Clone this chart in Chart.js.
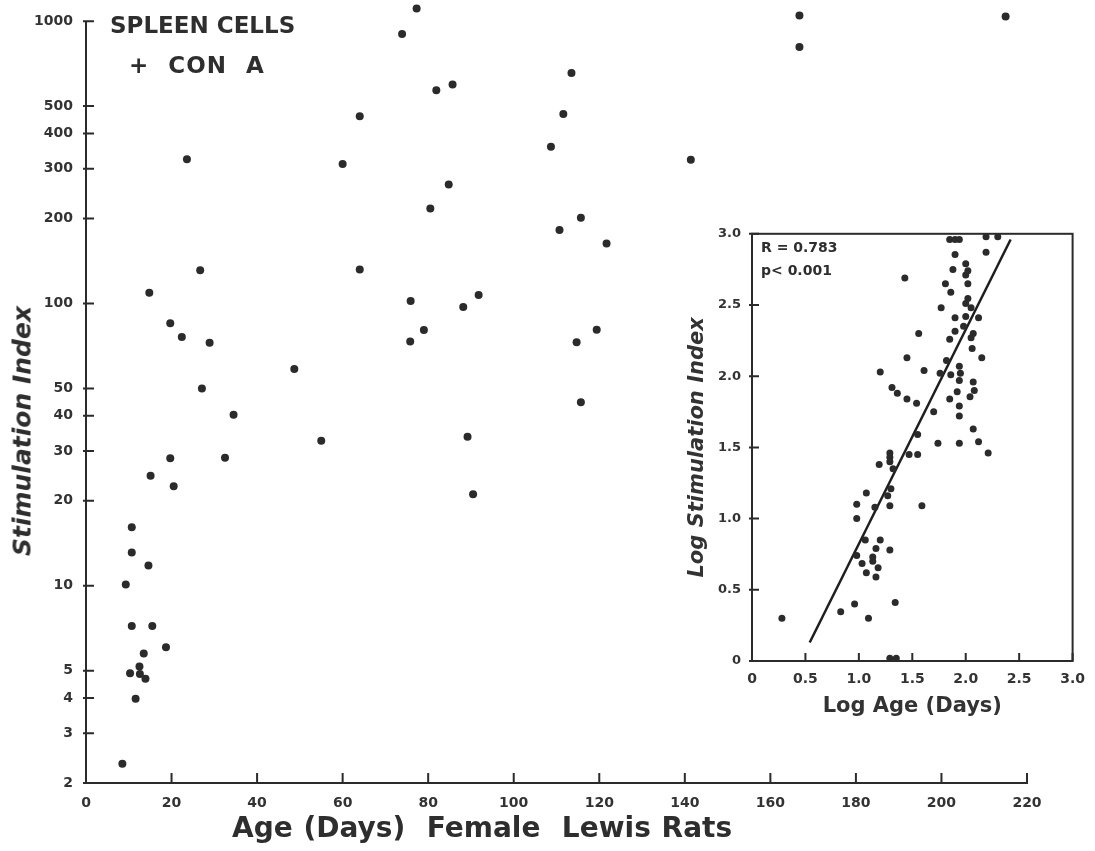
<!DOCTYPE html>
<html>
<head>
<meta charset="utf-8">
<script src="https://cdn.jsdelivr.net/npm/chart.js@4.4.1/dist/chart.umd.min.js"></script>
<style>
  body { margin: 0; background: #fff; }
  #wrap { position: relative; width: 1095px; height: 851px; overflow: hidden; }
  #mainChart { position: absolute; left: 0; top: 0; }
  #insetChart { position: absolute; left: 680px; top: 215px; }
  .lbl { position: absolute; color: #2e2e2e; font-family: "DejaVu Sans", sans-serif; font-weight: bold; white-space: pre; line-height: 1; }
  .rot { transform: translate(-50%, -50%) rotate(-90deg); font-style: italic; }
</style>
</head>
<body>
<div id="wrap">
  <canvas id="mainChart" width="1095" height="851"></canvas>
  <canvas id="insetChart" width="415" height="505"></canvas>
  <div class="lbl" style="left:110px; top:14px; font-size:23px;">SPLEEN CELLS</div>
  <div class="lbl" style="left:129px; top:54px; font-size:23px; letter-spacing:1px; word-spacing:10px;">+ CON A</div>
  <div class="lbl rot" style="left:22px; top:431px; font-size:25px;">Stimulation Index</div>
  <div class="lbl" style="left:232px; top:814px; font-size:28px; word-spacing:1px;">Age (Days)  Female  Lewis Rats</div>
  <div class="lbl" style="left:761px; top:240px; font-size:14px;">R = 0.783</div>
  <div class="lbl" style="left:761px; top:263px; font-size:14px;">p&lt; 0.001</div>
</div>
<script>
// main panel: age (days) vs stimulation index
const ageDays = [8.5, 9.3, 10.7, 15.5, 18.7, 13.5, 12.5, 10.3, 12.6, 13.9, 11.6, 14.6, 14.8, 19.7, 22.4, 28.9,
    48.7, 27.1, 34.5, 55.0, 19.7, 32.5, 15.1, 20.5, 10.7, 10.7, 23.6, 26.7, 60.0, 64.0, 64.0, 77.3, 73.9, 81.9,
    85.7, 113.5, 111.6, 108.7, 141.4, 84.8, 80.5, 115.7, 110.7, 121.7, 91.8, 166.8, 166.8, 215, 75.9, 79.0, 75.8,
    88.2, 119.4, 114.7, 115.7, 89.2, 90.5];
const stimIndex = [2.34, 10.1, 7.2, 7.2, 6.05, 5.75, 5.17, 4.9, 4.87, 4.68, 3.98, 11.8, 109, 85, 76, 72.6,
    58.6, 50, 40.3, 32.6, 28.3, 28.4, 24.5, 22.5, 16.1, 13.1, 324, 131, 312, 460, 132, 1109, 900, 569,
    596, 655, 469, 359, 323, 264, 217, 201, 182, 163, 107, 1047, 809, 1038, 102, 80.5, 73.3,
    97.2, 80.7, 72.8, 44.7, 33.7, 21.1];
const ageTicks = [0, 20, 40, 60, 80, 100, 120, 140, 160, 180, 200, 220];
const indexTicks = [2, 3, 4, 5, 10, 20, 30, 40, 50, 100, 200, 300, 400, 500, 1000];

// inset: log age vs log stimulation index
const logAge = [1.85, 1.90, 1.94, 2.19, 2.30, 1.90, 2.19, 1.43, 1.88, 2.00, 2.02, 2.00, 1.81, 2.02, 1.86, 2.02,
    2.00, 2.05, 1.77, 1.90, 2.00, 2.12, 1.98, 1.56, 1.90, 2.07, 2.05, 1.85, 2.06, 1.45, 2.15, 1.82, 1.20, 1.61,
    1.94, 1.95, 1.76, 1.86, 1.94, 2.07, 2.08, 1.31, 1.36, 1.92, 1.45, 1.54, 1.85, 2.04, 1.94, 1.70, 1.94, 2.07,
    1.55, 1.74, 1.94, 2.12, 1.29, 1.47, 1.55, 2.21,
    1.29, 1.29, 1.32, 1.19, 1.30, 1.07, 1.27, 0.98, 1.15, 1.29, 1.59, 0.98, 1.06, 1.20, 1.16, 1.29, 0.98, 1.13,
    1.13, 1.03, 1.18, 1.07, 1.16, 0.96, 1.34, 0.83, 1.09, 0.28, 1.29, 1.35];
const logIndex = [2.96, 2.96, 2.96, 2.98, 2.98, 2.855, 2.87, 2.69, 2.75, 2.79, 2.74, 2.71, 2.65, 2.65, 2.59, 2.545,
    2.51, 2.48, 2.48, 2.41, 2.42, 2.41, 2.35, 2.30, 2.315, 2.30, 2.27, 2.26, 2.195, 2.13, 2.13, 2.11, 2.03, 2.04,
    2.07, 2.02, 2.02, 2.01, 1.97, 1.96, 1.90, 1.92, 1.88, 1.89, 1.84, 1.81, 1.84, 1.855, 1.79, 1.75, 1.72, 1.63,
    1.59, 1.53, 1.53, 1.54, 1.46, 1.45, 1.45, 1.46,
    1.43, 1.40, 1.35, 1.38, 1.21, 1.18, 1.16, 1.10, 1.08, 1.09, 1.09, 1.00, 0.85, 0.85, 0.79, 0.78, 0.74, 0.73,
    0.70, 0.685, 0.655, 0.62, 0.59, 0.40, 0.41, 0.345, 0.30, 0.30, 0.02, 0.02];
const fitX = [0.54, 2.42];
const fitY = [0.13, 2.96];
const insetTicks = [0, 0.5, 1.0, 1.5, 2.0, 2.5, 3.0];

const ink = '#2b2b2b';
const tickFont = { family: 'DejaVu Sans', weight: 'bold', size: 14 };

// tick marks drawn inward, like the original plot
const inwardTicks = {
    id: 'inwardTicks',
    afterDraw(chart, args, opts) {
        const { ctx, chartArea: a, scales } = chart;
        ctx.save();
        ctx.strokeStyle = ink;
        ctx.lineWidth = opts.width;
        ctx.beginPath();
        scales.x.ticks.forEach(t => {
            const px = scales.x.getPixelForValue(t.value);
            ctx.moveTo(px, a.bottom);
            ctx.lineTo(px, a.bottom - opts.xLen);
        });
        scales.y.ticks.forEach(t => {
            const py = scales.y.getPixelForValue(t.value);
            ctx.moveTo(a.left - 3, py);
            ctx.lineTo(a.left + opts.yLen, py);
        });
        if (opts.yAxisFrom !== undefined) {
            // y axis line only runs up to the top labelled tick
            ctx.moveTo(a.left, scales.y.getPixelForValue(opts.yAxisFrom));
            ctx.lineTo(a.left, a.bottom);
        }
        ctx.stroke();
        if (opts.frame) {
            ctx.lineWidth = 2;
            ctx.strokeRect(a.left, a.top, a.right - a.left, a.bottom - a.top);
        }
        ctx.restore();
    }
};

new Chart(document.getElementById('mainChart'), {
    type: 'scatter',
    data: {
        datasets: [{
            data: ageDays.map((x, i) => ({ x: x, y: stimIndex[i] })),
            backgroundColor: ink,
            borderWidth: 0,
            pointRadius: 4,
            clip: false
        }]
    },
    options: {
        responsive: false,
        animation: false,
        devicePixelRatio: 1,
        layout: { padding: { top: 3, right: 68, left: 0, bottom: 0 } },
        plugins: {
            legend: { display: false }, tooltip: { enabled: false },
            inwardTicks: { width: 2, xLen: 10, yLen: 8, yAxisFrom: 1000 }
        },
        scales: {
            x: {
                type: 'linear', min: 0, max: 220,
                afterBuildTicks: s => { s.ticks = ageTicks.map(v => ({ value: v })); },
                afterFit: s => { s.height = 68; },
                grid: { display: false, drawTicks: false },
                border: { display: true, color: ink, width: 2 },
                ticks: { color: '#333', font: tickFont, padding: 12 }
            },
            y: {
                type: 'logarithmic', min: 2, max: 1150,
                afterBuildTicks: s => { s.ticks = indexTicks.map(v => ({ value: v })); },
                afterFit: s => { s.width = 86; s.paddingTop = 0; s.paddingBottom = 0; },
                grid: { display: false, drawTicks: false },
                border: { display: false },
                ticks: { color: '#333', font: tickFont, padding: 13, callback: v => String(v) }
            }
        }
    },
    plugins: [inwardTicks]
});

new Chart(document.getElementById('insetChart'), {
    type: 'scatter',
    data: {
        datasets: [{
            data: logAge.map((x, i) => ({ x: x, y: logIndex[i] })),
            backgroundColor: ink,
            borderWidth: 0,
            pointRadius: 3.5,
            clip: false
        }, {
            data: fitX.map((x, i) => ({ x: x, y: fitY[i] })),
            showLine: true,
            borderColor: '#1e1e1e',
            borderWidth: 2.5,
            pointRadius: 0
        }]
    },
    options: {
        responsive: false,
        animation: false,
        devicePixelRatio: 1,
        layout: { padding: { top: 11, right: 17, left: 0, bottom: 0 } },
        plugins: { legend: { display: false }, tooltip: { enabled: false }, inwardTicks: { width: 2, xLen: 8, yLen: 7, frame: true } },
        scales: {
            x: {
                type: 'linear', min: 0, max: 3,
                afterBuildTicks: s => { s.ticks = insetTicks.map(v => ({ value: v })); },
                afterFit: s => { s.height = 59; },
                grid: { display: false, drawTicks: false },
                border: { display: false },
                ticks: { color: '#333', font: { family: 'DejaVu Sans', weight: 'bold', size: 14 }, padding: 10,
                    callback: v => v === 0 ? '0' : v.toFixed(1) },
                title: { display: true, text: 'Log Age (Days)', color: '#333',
                    font: { family: 'DejaVu Sans', weight: 'bold', size: 21 }, padding: { top: 0, bottom: 1 } }
            },
            y: {
                type: 'linear', min: 0, max: 3,
                afterBuildTicks: s => { s.ticks = insetTicks.map(v => ({ value: v })); },
                afterFit: s => { s.width = 72; },
                grid: { display: false, drawTicks: false },
                border: { display: false },
                ticks: { color: '#333', font: { family: 'DejaVu Sans', weight: 'bold', size: 13 }, padding: 11,
                    callback: v => v === 0 ? '0' : v.toFixed(1) },
                title: { display: true, text: 'Log Stimulation Index', color: '#333',
                    font: { family: 'DejaVu Sans', weight: 'bold', style: 'italic', size: 21 }, padding: { top: 5, bottom: 0 } }
            }
        }
    },
    plugins: [inwardTicks]
});
</script>
</body>
</html>
